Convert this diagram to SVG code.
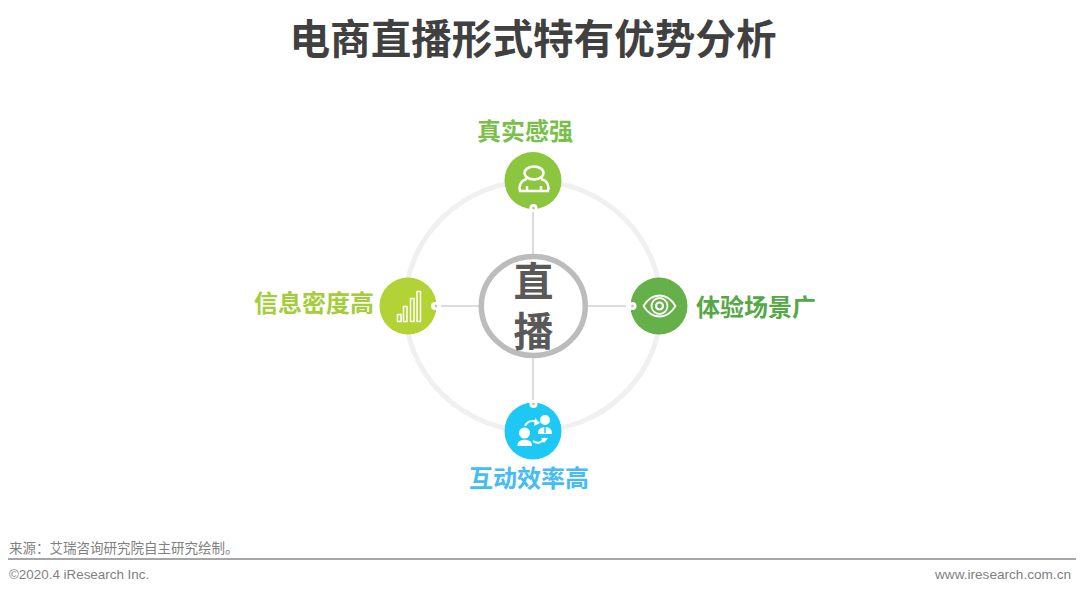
<svg xmlns="http://www.w3.org/2000/svg" width="1080" height="594" viewBox="0 0 1080 594">
<style>
text{font-family:"Liberation Sans","Noto Sans CJK SC",sans-serif}
.b{font-weight:700;font-family:"Noto Sans CJK SC",sans-serif}
.l{fill:none;stroke:#dcdcdc;stroke-width:2}
.dot{fill:#fff}
.pin{fill:#bdbdbd}
.ic{fill:none;stroke:#fff;stroke-width:1.5}
.icf{fill:#fff}
</style>
<rect width="1080" height="594" fill="#fff"/>
<text class="b" x="533" y="54" font-size="40.600" fill="#404040" text-anchor="middle">电商直播形式特有优势分析</text>
<ellipse cx="533" cy="306" rx="128" ry="125" fill="none" stroke="#f0f0f0" stroke-width="5"/>
<g id="connectors">
<path class="l" d="M533 210V254M533 358V402M441 306H479M588 306H626"/>
</g>
<g id="center">
<ellipse cx="533.300" cy="306" rx="52" ry="49.500" fill="#fff" stroke="#bcbcbc" stroke-width="5.500"/>
<text class="b" x="533.500" y="261" font-size="40" letter-spacing="10" writing-mode="vertical-rl" fill="#595959">直播</text>
</g>
<g id="node-top">
<circle cx="533" cy="180.500" r="28.500" fill="#8cc63f"/>
<circle class="dot" cx="533.500" cy="208" r="4"/><circle class="pin" cx="533.500" cy="208" r="1.300"/>
<ellipse class="ic" style="stroke-width:2.500" cx="534" cy="173" rx="9.500" ry="6.500"/>
<path class="ic" style="stroke-width:2.500" d="M527 179C519 181 519 188 520 191H527V186M527 191H541V186M541 179C549 181 549 188 548 191H541"/>
<text class="b" x="525" y="140" font-size="24" fill="#79bf4a" text-anchor="middle">真实感强</text>
</g>
<g id="node-right">
<circle cx="659" cy="306" r="28.500" fill="#66b04a"/>
<circle class="dot" cx="632.500" cy="306" r="4"/><circle class="pin" cx="632.500" cy="306" r="1.300"/>
<path class="ic" style="stroke-width:1.800" d="M643.500 306C652 292 667 292 675.500 306C667 320 652 320 643.500 306Z"/>
<circle class="ic" style="stroke-width:1.800" cx="659.500" cy="306" r="8"/>
<circle class="ic" style="stroke-width:2.200" cx="659.500" cy="306" r="3.500"/>
<text class="b" x="756" y="316" font-size="24" fill="#55a845" text-anchor="middle">体验场景广</text>
</g>
<g id="node-bottom">
<circle cx="533" cy="431" r="28.500" fill="#1ec8f5"/>
<circle class="dot" cx="533.500" cy="404" r="4"/><circle class="pin" cx="533.500" cy="404" r="1.300"/>
<circle class="icf" cx="524.500" cy="433" r="5.500"/>
<path class="icf" d="M517.500 445C517.500 438 532 438 532 445V446H517.500Z"/>
<circle class="icf" cx="545" cy="420" r="5"/>
<path class="icf" d="M538 433C538 425 552 425 552 433V434H538Z"/>
<path d="M545 427V433" stroke="#1ec8f5" stroke-width="1.500"/>
<path class="ic" d="M525 426C527 421 532 420 537 422M533 441C537 444 542 443 545 438" style="stroke-width:2"/>
<path class="icf" d="M535 418L540 423L534 426ZM541 438L548 438L544 443Z"/>
<text class="b" x="529" y="487" font-size="24" fill="#45bdf0" text-anchor="middle">互动效率高</text>
</g>
<g id="node-left">
<circle cx="408" cy="306" r="28.500" fill="#b2d235"/>
<circle class="dot" cx="435" cy="306" r="4"/><circle class="pin" cx="436" cy="306" r="1.300"/>
<rect class="ic" x="397.500" y="314.500" width="3.500" height="7"/>
<rect class="ic" x="403.500" y="306.500" width="3.500" height="15"/>
<rect class="ic" x="410.500" y="298.500" width="3.500" height="23"/>
<rect class="ic" x="417" y="291.500" width="3.500" height="30"/>
<text class="b" x="314" y="312" font-size="24" fill="#a3cd39" text-anchor="middle">信息密度高</text>
</g>
<text x="9" y="553" font-size="13.500" fill="#7f7f7f">来源：艾瑞咨询研究院自主研究绘制。</text>
<rect x="8" y="558" width="1068" height="2" fill="#a6a6a6"/>
<text x="9" y="579" font-size="13.400" fill="#7f7f7f">©2020.4 iResearch Inc.</text>
<text x="1071" y="579" font-size="13.600" fill="#7f7f7f" text-anchor="end">www.iresearch.com.cn</text>
</svg>
